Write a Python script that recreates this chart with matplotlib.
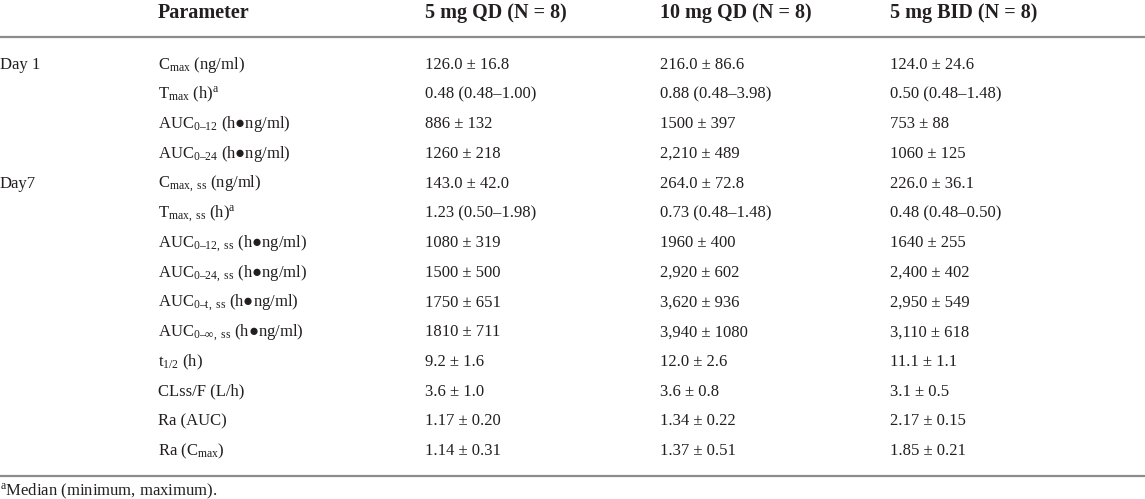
import matplotlib
matplotlib.use('Agg')
from matplotlib import pyplot as plt

plt.rcParams['font.family'] = ['Liberation Serif', 'DejaVu Serif']
plt.rcParams['mathtext.fontset'] = 'custom'
plt.rcParams['mathtext.rm'] = 'Liberation Serif'
plt.rcParams['mathtext.it'] = 'Liberation Serif:italic'
plt.rcParams['mathtext.bf'] = 'Liberation Serif:bold'

headers = ['Parameter', '5 mg QD (N = 8)', '10 mg QD (N = 8)', '5 mg BID (N = 8)']

days = ['Day 1', '', '', '', 'Day7'] + [''] * 9

params = [
    r'C$_{\mathrm{max}}$ (ng/ml)',
    r'T$_{\mathrm{max}}$ (h)$^{\mathrm{a}}$',
    r'AUC$_{\mathrm{0–12}}$ (h●ng/ml)',
    r'AUC$_{\mathrm{0–24}}$ (h●ng/ml)',
    r'C$_{\mathrm{max,\ ss}}$ (ng/ml)',
    r'T$_{\mathrm{max,\ ss}}$ (h)$^{\mathrm{a}}$',
    r'AUC$_{\mathrm{0–12,\ ss}}$ (h●ng/ml)',
    r'AUC$_{\mathrm{0–24,\ ss}}$ (h●ng/ml)',
    r'AUC$_{\mathrm{0–t,\ ss}}$ (h●ng/ml)',
    r'AUC$_{\mathrm{0–\infty,\ ss}}$ (h●ng/ml)',
    r't$_{\mathrm{1/2}}$ (h)',
    'CLss/F (L/h)',
    'Ra (AUC)',
    r'Ra (C$_{\mathrm{max}}$)',
]

qd5 = ['126.0 ± 16.8', '0.48 (0.48–1.00)', '886 ± 132', '1260 ± 218',
       '143.0 ± 42.0', '1.23 (0.50–1.98)', '1080 ± 319', '1500 ± 500',
       '1750 ± 651', '1810 ± 711', '9.2 ± 1.6', '3.6 ± 1.0',
       '1.17 ± 0.20', '1.14 ± 0.31']
qd10 = ['216.0 ± 86.6', '0.88 (0.48–3.98)', '1500 ± 397', '2,210 ± 489',
        '264.0 ± 72.8', '0.73 (0.48–1.48)', '1960 ± 400', '2,920 ± 602',
        '3,620 ± 936', '3,940 ± 1080', '12.0 ± 2.6', '3.6 ± 0.8',
        '1.34 ± 0.22', '1.37 ± 0.51']
bid5 = ['124.0 ± 24.6', '0.50 (0.48–1.48)', '753 ± 88', '1060 ± 125',
        '226.0 ± 36.1', '0.48 (0.48–0.50)', '1640 ± 255', '2,400 ± 402',
        '2,950 ± 549', '3,110 ± 618', '11.1 ± 1.1', '3.1 ± 0.5',
        '2.17 ± 0.15', '1.85 ± 0.21']

footnote = r'$^{\mathrm{a}}$Median (minimum, maximum).'

W, H = 1145, 499
fig = plt.figure(figsize=(W / 100, H / 100), dpi=100)
ax = fig.add_axes([0, 0, 1, 1])
ax.set_xlim(0, W)
ax.set_ylim(H, 0)
ax.axis('off')

txt = '#231f20'
col_x = [158, 425, 660, 890]
body_fs = 12
head_fs = 14.5

# header row
for x, h in zip(col_x, headers):
    ax.text(x, 18, h, fontsize=head_fs, fontweight='bold', color=txt, va='baseline', ha='left')

ax.plot([0, W], [37, 37], color='#8c8c8c', lw=1.6)

# body rows
y0 = 69
dy = 29.7
for i in range(len(params)):
    y = y0 + dy * i
    if days[i]:
        ax.text(0, y, days[i], fontsize=body_fs, color=txt, va='baseline')
    ax.text(col_x[0], y, params[i], fontsize=body_fs, color=txt, va='baseline')
    ax.text(col_x[1], y, qd5[i], fontsize=body_fs, color=txt, va='baseline')
    ax.text(col_x[2], y, qd10[i], fontsize=body_fs, color=txt, va='baseline')
    ax.text(col_x[3], y, bid5[i], fontsize=body_fs, color=txt, va='baseline')

ax.plot([0, W], [476, 476], color='#8c8c8c', lw=1.6)

ax.text(0, 495, footnote, fontsize=body_fs, color=txt, va='baseline')

fig.savefig('out.png', dpi=100)
